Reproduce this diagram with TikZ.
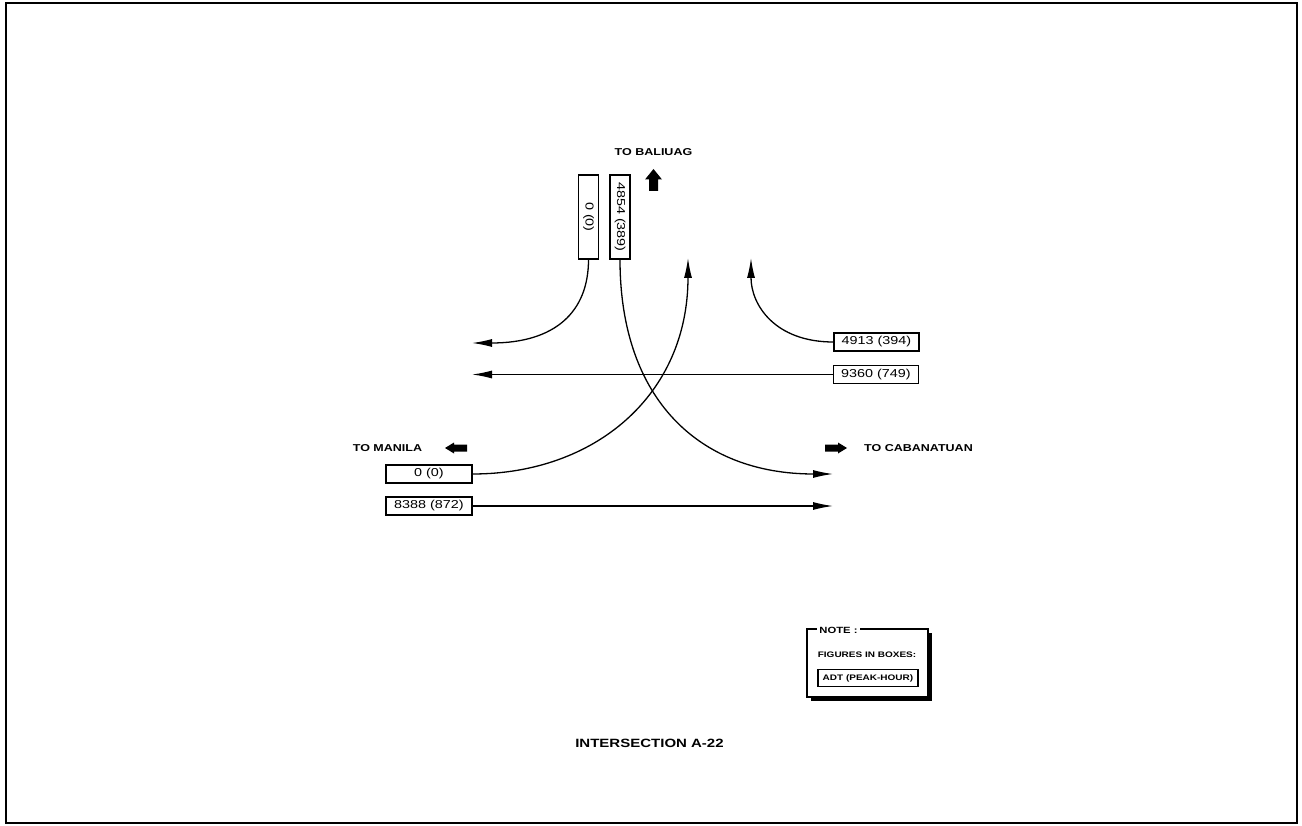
\documentclass[tikz,border=0pt]{standalone}
\usepackage{fontspec}
\setmainfont{Liberation Sans}
\usepackage{graphicx}
\usetikzlibrary{arrows.meta}
\newcommand\sx[1]{\scalebox{1.25}[1]{#1}}
\tikzset{
 lbl/.style={font=\bfseries\fontsize{10}{12}\selectfont, inner sep=0pt},
 numbox/.style={draw, line width=1.2pt, inner sep=0pt, font=\fontsize{11.5}{13}\selectfont, minimum width=85pt, minimum height=18pt},
 flow/.style={line width=1.3pt, -{Latex[length=20pt,width=8pt]}},
 notetext/.style={font=\bfseries\fontsize{8}{9}\selectfont, inner sep=0pt},
}
\begin{document}
\begin{tikzpicture}[x=1pt,y=-1pt]
\useasboundingbox (0,0) rectangle (1302,826);
\draw[line width=2.5pt] (6,3) rectangle (1297,823);

% north
\node[lbl] (baliuag) at (653.5,152) {\sx{TO BALIUAG}};
\fill (653.5,169) -- (662,179.5) -- (658,179.5) -- (658,191) -- (649,191) -- (649,179.5) -- (645,179.5) -- cycle;

% boxes
\node[numbox, rotate=-90, minimum width=84pt, minimum height=20pt] (v0) at (588.5,217) {\sx{0 (0)}};
\node[numbox, rotate=-90, minimum width=84pt, minimum height=20pt] (v1) at (620,217) {\sx{4854 (389)}};
\node[numbox] (e1) at (876.5,342) {\sx{4913 (394)}};
\node[numbox] (e2) at (876,374.5) {\sx{9360 (749)}};
\node[numbox, minimum width=86pt] (w1) at (429,474) {\sx{0 (0)}};
\node[numbox, minimum width=86pt] (w2) at (429,506) {\sx{8388 (872)}};

% arrow ends
\coordinate (t1) at (472,343);
\coordinate (t2) at (472,374.5);
\coordinate (t3) at (833,474);
\coordinate (t4) at (688,258);
\coordinate (t5) at (751,258);
\coordinate (t6) at (833,506);

\draw[flow] (v0.east) .. controls (588.5,312) and (555,343) .. (t1);
\draw[flow] (e2.west) -- (t2);
\draw[flow] (v1.east) .. controls (620,400) and (700,474) .. (t3);
\draw[flow] (w1.east) .. controls (595,474) and (688,395) .. (t4);
\draw[flow] (e1.west) .. controls (775,342) and (751,305) .. (t5);
\draw[flow] (w2.east) -- (t6);

% west / east labels
\node[lbl] (manila) at (387.5,448) {\sx{TO MANILA}};
\fill (445,448) -- (454,442.5) -- (454,444.5) -- (467,444.5) -- (467,451.5) -- (454,451.5) -- (454,453.5) -- cycle;
\node[lbl] (cabanatuan) at (918.5,448) {\sx{TO CABANATUAN}};
\fill (847,448) -- (838,442.5) -- (838,444.5) -- (825,444.5) -- (825,451.5) -- (838,451.5) -- (838,453.5) -- cycle;

% note
\fill (811,633) rectangle (932,701);
\draw[fill=white, line width=1.2pt] (807,629) rectangle (928,697);
\node[notetext, font=\bfseries\fontsize{9}{10}\selectfont, fill=white, inner xsep=2.5pt, inner ysep=1pt] (note) at (838.5,630) {\sx{NOTE :}};
\node[notetext] (fig) at (867,655) {\sx{FIGURES IN BOXES:}};
\node[notetext, draw, line width=1.2pt, minimum width=100pt, minimum height=17pt] (adt) at (868,678) {\sx{ADT (PEAK-HOUR)}};

\node[lbl, font=\bfseries\fontsize{12}{14}\selectfont] (title) at (649.5,743) {\sx{INTERSECTION A-22}};
\end{tikzpicture}
\end{document}
